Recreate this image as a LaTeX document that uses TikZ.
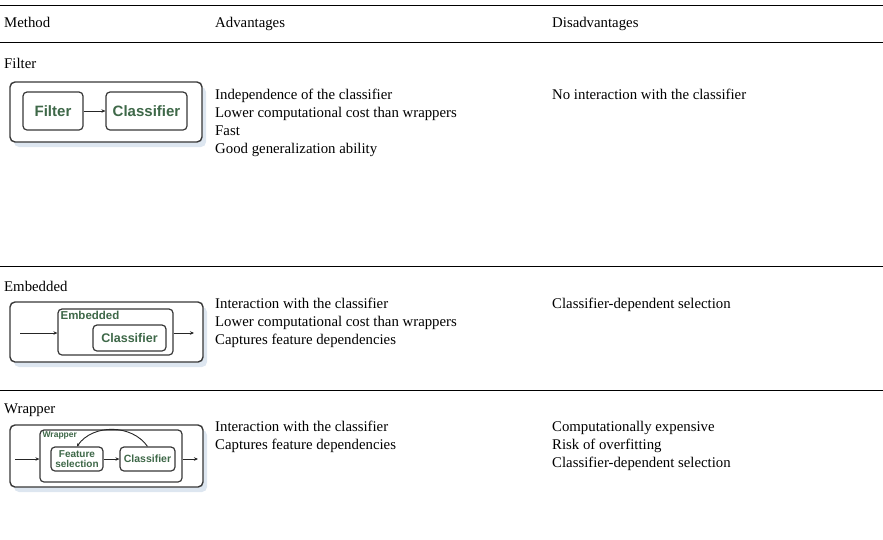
\documentclass[tikz,border=0pt]{standalone}
\usepackage{fontspec}
\setmainfont{Liberation Serif}
\newfontfamily\boxfont{Liberation Sans}
\usetikzlibrary{arrows.meta}

\definecolor{boxgreen}{HTML}{3E6848}
\definecolor{boxline}{HTML}{383838}
\definecolor{shadowblue}{HTML}{DDE6F0}

\tikzset{
  cell/.style={anchor=base west, inner sep=0pt, font=\fontsize{14.8}{18}\selectfont},
  unitbox/.style={draw=boxline, line width=1.2pt, rounded corners=4pt, fill=white,
    text=boxgreen, inner sep=0pt, align=center},
  link/.style={-{Stealth[length=4pt,width=3.5pt]}, line width=0.9pt, draw=black!85},
}

% outer frame with its pale shadow: x1, y1, x2, y2 (pixels, y downwards)
\newcommand{\methodframe}[4]{%
  \fill[shadowblue, rounded corners=5pt] (#1+4,#2+5) rectangle (#3+4,#4+5);
  \draw[boxline, line width=1.4pt, rounded corners=5pt, fill=white] (#1,#2) rectangle (#3,#4);}

\begin{document}
\begin{tikzpicture}[x=1pt,y=-1pt]
    \useasboundingbox (0,0) rectangle (883,539);
    % ---- table rules ----
    \draw[line width=1pt]   (0,5)   -- (883,5);
    \draw[line width=0.7pt] (0,42)  -- (883,42);
    \draw[line width=0.7pt] (0,266) -- (883,266);
    \draw[line width=0.7pt] (0,390) -- (883,390);
    % ---- header ----
    \node[cell] (hmeth) at (4,27)   {Method};
    \node[cell] (hadv)  at (215,27) {Advantages};
    \node[cell] (hdis)  at (552,27) {Disadvantages};
    % ---- filter row ----
    \node[cell] (nfilt) at (4,68) {Filter};
    \foreach \txt [count=\i] in {Independence of the classifier,
        Lower computational cost than wrappers, Fast, Good generalization ability}
      \node[cell] (afilt\i) at (215,99+18*\i-18) {\txt};
    \node[cell] (dfilt) at (552,99) {No interaction with the classifier};
    \begin{scope}
      \methodframe{10}{82}{202}{142}
      \node[unitbox, minimum width=60pt, minimum height=38pt, font=\boxfont\bfseries\fontsize{15}{15}\selectfont]
        (fsel) at (53,111) {Filter};
      \node[unitbox, minimum width=81pt, minimum height=38pt, font=\boxfont\bfseries\fontsize{15}{15}\selectfont]
        (fclf) at (146.5,111) {Classifier};
      \draw[link] (fsel) -- (fclf);
    \end{scope}
    % ---- embedded row ----
    \node[cell] (nemb) at (4,291) {Embedded};
    \foreach \txt [count=\i] in {Interaction with the classifier,
        Lower computational cost than wrappers, Captures feature dependencies}
      \node[cell] (aemb\i) at (215,308+18*\i-18) {\txt};
    \node[cell] (demb) at (552,308) {Classifier-dependent selection};
    \begin{scope}
      \methodframe{10}{302}{203}{362}
      \node[unitbox, minimum width=115pt, minimum height=46pt] (ebox) at (115.5,332) {};
      \node[anchor=north west, inner sep=0pt, text=boxgreen, font=\boxfont\bfseries\fontsize{11.5}{12}\selectfont]
        (elab) at ([shift={(3,3)}]ebox.north west) {Embedded};
      \node[unitbox, minimum width=73pt, minimum height=26pt, font=\boxfont\bfseries\fontsize{12.5}{13}\selectfont]
        (eclf) at (129.5,338) {Classifier};
      \coordinate (ein)  at (20,333);
      \coordinate (eout) at (194,333);
      \draw[link] (ein) -- (ebox.west |- ein);
      \draw[link] (ebox.east |- eout) -- (eout);
    \end{scope}
    % ---- wrapper row ----
    \node[cell] (nwrp) at (4,413) {Wrapper};
    \foreach \txt [count=\i] in {Interaction with the classifier, Captures feature dependencies}
      \node[cell] (awrp\i) at (215,431+18*\i-18) {\txt};
    \foreach \txt [count=\i] in {Computationally expensive, Risk of overfitting,
        Classifier-dependent selection}
      \node[cell] (dwrp\i) at (552,431+18*\i-18) {\txt};
    \begin{scope}
      \methodframe{10}{425}{203}{487}
      \node[unitbox, minimum width=142pt, minimum height=52pt] (wbox) at (111,456) {};
      \node[anchor=north west, inner sep=0pt, text=boxgreen, font=\boxfont\bfseries\fontsize{8.5}{9}\selectfont]
        (wlab) at ([shift={(3,2.5)}]wbox.north west) {Wrapper};
      \node[unitbox, minimum width=52pt, minimum height=24pt, font=\boxfont\bfseries\fontsize{10}{10.5}\selectfont]
        (wsel) at (77,459) {Feature\\selection};
      \node[unitbox, minimum width=55pt, minimum height=24pt, font=\boxfont\bfseries\fontsize{10.5}{11}\selectfont]
        (wclf) at (147.5,459) {Classifier};
      \coordinate (win)  at (15,459);
      \coordinate (wout) at (198,459);
      \draw[link] (win) -- (wbox.west |- win);
      \draw[link] (wsel) -- (wclf);
      \draw[link] (wbox.east |- wout) -- (wout);
      \draw[line width=0.9pt, draw=black!85, -{Stealth[length=3pt,width=3pt]}]
        (wclf.north) to[out=125, in=55] (wsel.north);
    \end{scope}
\end{tikzpicture}
\end{document}
